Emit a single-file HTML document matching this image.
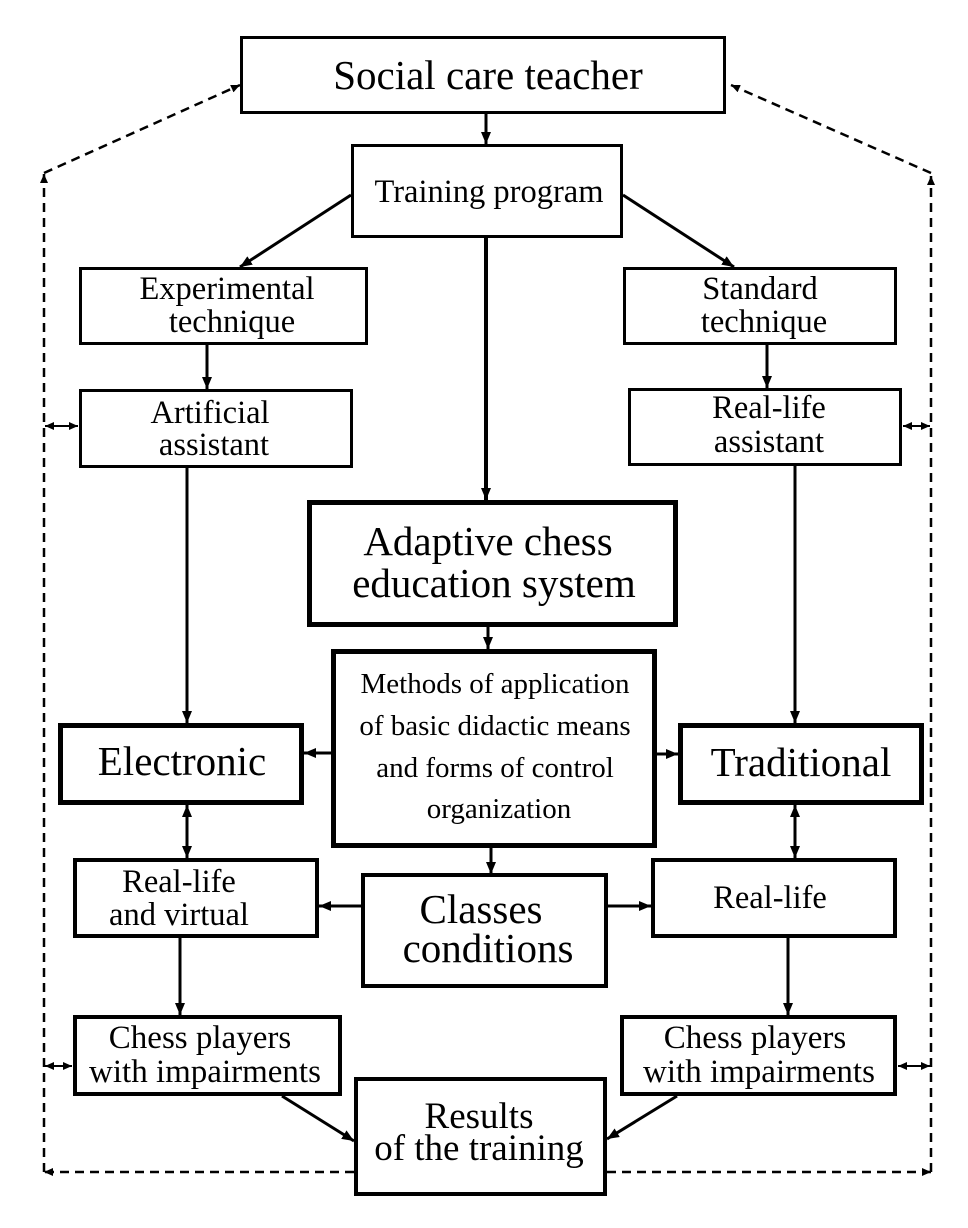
<!DOCTYPE html>
<html>
<head>
<meta charset="utf-8">
<style>
html,body{margin:0;padding:0;background:#fff;}
svg{display:block;}
text{font-family:"Liberation Serif","Times New Roman",serif;fill:#000;text-anchor:middle;}
</style>
</head>
<body>
<svg width="968" height="1228" viewBox="0 0 968 1228" xmlns="http://www.w3.org/2000/svg">
<defs>
<marker id="ah" markerUnits="userSpaceOnUse" markerWidth="13" markerHeight="11" refX="12" refY="5.5" orient="auto-start-reverse">
<path d="M0,0.5 L12,5.5 L0,10.5 z" fill="#000"/>
</marker>
<marker id="sh" markerUnits="userSpaceOnUse" markerWidth="10" markerHeight="9" refX="9" refY="4.5" orient="auto-start-reverse">
<path d="M0,0.5 L9,4.5 L0,8.5 z" fill="#000"/>
</marker>
</defs>
<rect width="968" height="1228" fill="#fff"/>

<!-- Boxes -->
<g fill="none" stroke="#000">
<rect x="241.5" y="37.5" width="483" height="75" stroke-width="3"/>
<rect x="352.5" y="145.5" width="269" height="91" stroke-width="3"/>
<rect x="80.5" y="268.5" width="286" height="75" stroke-width="3"/>
<rect x="624.5" y="268.5" width="271" height="75" stroke-width="3"/>
<rect x="80.5" y="390.5" width="271" height="76" stroke-width="3"/>
<rect x="629.5" y="389.5" width="271" height="75" stroke-width="3"/>
<rect x="309.5" y="502.5" width="366" height="122" stroke-width="5"/>
<rect x="333.5" y="651.5" width="321" height="194" stroke-width="5"/>
<rect x="60.5" y="725.5" width="241" height="77" stroke-width="5"/>
<rect x="680.5" y="725.5" width="241" height="77" stroke-width="5"/>
<rect x="75" y="860" width="242" height="76" stroke-width="4"/>
<rect x="363" y="875" width="243" height="111" stroke-width="4"/>
<rect x="653" y="860" width="242" height="76" stroke-width="4"/>
<rect x="75" y="1017" width="265" height="77" stroke-width="4"/>
<rect x="622" y="1017" width="273" height="77" stroke-width="4"/>
<rect x="356" y="1079" width="249" height="115" stroke-width="4"/>
</g>

<!-- Solid arrows -->
<g stroke="#000" stroke-width="3" fill="none">
<line x1="486" y1="114" x2="486" y2="144" marker-end="url(#ah)"/>
<line x1="351" y1="195" x2="240" y2="267" marker-end="url(#ah)"/>
<line x1="623" y1="195" x2="734" y2="267" marker-end="url(#ah)"/>
<line x1="486" y1="238" x2="486" y2="500" stroke-width="4" marker-end="url(#ah)"/>
<line x1="207" y1="345" x2="207" y2="389" marker-end="url(#ah)"/>
<line x1="767" y1="345" x2="767" y2="388" marker-end="url(#ah)"/>
<line x1="187" y1="468" x2="187" y2="723" marker-end="url(#ah)"/>
<line x1="795" y1="466" x2="795" y2="723" marker-end="url(#ah)"/>
<line x1="488" y1="627" x2="488" y2="649" marker-end="url(#ah)"/>
<line x1="331" y1="753" x2="304" y2="753" marker-end="url(#ah)"/>
<line x1="657" y1="754" x2="678" y2="754" marker-end="url(#ah)"/>
<line x1="491" y1="848" x2="491" y2="874" marker-end="url(#ah)"/>
<line x1="187" y1="805" x2="187" y2="858" marker-start="url(#ah)" marker-end="url(#ah)"/>
<line x1="795" y1="805" x2="795" y2="858" marker-start="url(#ah)" marker-end="url(#ah)"/>
<line x1="362" y1="906" x2="319" y2="906" marker-end="url(#ah)"/>
<line x1="607" y1="906" x2="651" y2="906" marker-end="url(#ah)"/>
<line x1="180" y1="938" x2="180" y2="1015" marker-end="url(#ah)"/>
<line x1="788" y1="938" x2="788" y2="1015" marker-end="url(#ah)"/>
<line x1="282" y1="1096" x2="354" y2="1141" marker-end="url(#ah)"/>
<line x1="677" y1="1096" x2="607" y2="1139" marker-end="url(#ah)"/>
</g>

<!-- Small double arrows -->
<g stroke="#000" stroke-width="2" fill="none">
<line x1="45" y1="426" x2="78" y2="426" marker-start="url(#sh)" marker-end="url(#sh)"/>
<line x1="903" y1="426" x2="930" y2="426" marker-start="url(#sh)" marker-end="url(#sh)"/>
<line x1="45" y1="1066" x2="72" y2="1066" marker-start="url(#sh)" marker-end="url(#sh)"/>
<line x1="898" y1="1066" x2="930" y2="1066" marker-start="url(#sh)" marker-end="url(#sh)"/>
</g>

<!-- Dashed feedback lines -->
<g stroke="#000" stroke-width="2.5" fill="none" stroke-dasharray="9,6">
<line x1="354" y1="1172" x2="44" y2="1172" marker-end="url(#sh)"/>
<line x1="44" y1="1172" x2="44" y2="174" marker-end="url(#sh)"/>
<line x1="44" y1="173" x2="240" y2="85" marker-end="url(#sh)"/>
<line x1="607" y1="1172" x2="931" y2="1172" marker-end="url(#sh)"/>
<line x1="931" y1="1172" x2="931" y2="176" marker-end="url(#sh)"/>
<line x1="931" y1="173" x2="731" y2="85" marker-end="url(#sh)"/>
</g>

<!-- Labels -->
<text x="488" y="89" font-size="41">Social care teacher</text>
<text x="489" y="202" font-size="32.5">Training program</text>

<text x="227" y="299" font-size="32.5">Experimental</text>
<text x="232" y="332" font-size="32.5">technique</text>

<text x="760" y="299" font-size="32.5">Standard</text>
<text x="764" y="332" font-size="32.5">technique</text>

<text x="210" y="423" font-size="32.5">Artificial</text>
<text x="214" y="455" font-size="32.5">assistant</text>

<text x="769" y="418" font-size="32.5">Real-life</text>
<text x="769" y="452" font-size="32.5">assistant</text>

<text x="488" y="555" font-size="41">Adaptive chess</text>
<text x="494" y="597" font-size="41">education system</text>

<text x="495" y="693" font-size="29">Methods of application</text>
<text x="495" y="735" font-size="29">of basic didactic means</text>
<text x="495" y="777" font-size="29">and forms of control</text>
<text x="499" y="818" font-size="29">organization</text>

<text x="182" y="775" font-size="41">Electronic</text>
<text x="801" y="776" font-size="41">Traditional</text>

<text x="179" y="892" font-size="32.5">Real-life</text>
<text x="179" y="925" font-size="32.5">and virtual</text>

<text x="481" y="923" font-size="41">Classes</text>
<text x="488" y="962" font-size="41">conditions</text>

<text x="770" y="908" font-size="32.5">Real-life</text>

<text x="200" y="1048" font-size="33">Chess players</text>
<text x="205" y="1082" font-size="33">with impairments</text>

<text x="755" y="1048" font-size="33">Chess players</text>
<text x="759" y="1082" font-size="33">with impairments</text>

<text x="479" y="1128" font-size="37">Results</text>
<text x="479" y="1160" font-size="37">of the training</text>
</svg>
</body>
</html>
